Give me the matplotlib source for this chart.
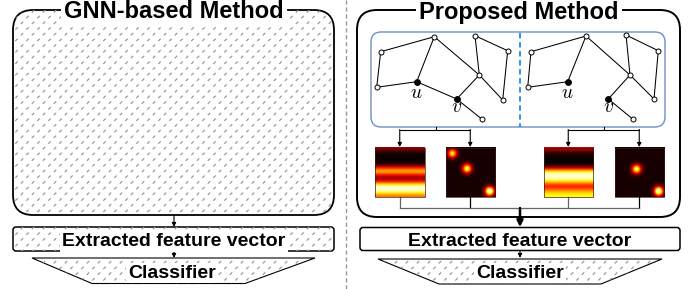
import matplotlib
matplotlib.use('Agg')
import matplotlib.pyplot as plt
import numpy as np
from matplotlib.patches import FancyBboxPatch, Polygon
from matplotlib.collections import LineCollection

plt.rcParams['font.family'] = ['Liberation Sans', 'DejaVu Sans']
plt.rcParams['mathtext.fontset'] = 'cm'

# ---- data (pixel coordinates of the reference picture) ----
panel_titles = ['GNN-based Method', 'Proposed Method']
feature_label = 'Extracted feature vector'
classifier_label = 'Classifier'

# graph nodes: A B C D E u F v G H
g1_x = [380.7, 434.3, 475.0, 507.7, 376.7, 416.7, 479.3, 456.7, 502.7, 481.7]
g1_y = [51.7, 36.7, 35.7, 50.7, 87.3, 81.7, 75.0, 99.0, 100.0, 119.0]
g2_x = [531.0, 586.0, 626.0, 658.3, 527.7, 567.7, 630.0, 608.3, 654.0, 632.7]
g2_y = [51.7, 36.0, 35.0, 50.7, 87.3, 81.7, 75.0, 99.0, 99.0, 119.0]
edges1 = [(0, 1), (0, 4), (4, 5), (5, 1), (1, 6), (5, 7), (7, 6), (6, 2),
          (2, 3), (3, 8), (6, 8), (7, 9)]
edges2 = [(0, 1), (0, 4), (4, 5), (5, 1), (1, 6), (7, 6), (6, 2),
          (2, 3), (3, 8), (6, 8), (7, 9)]
u_idx, v_idx = 5, 7

# heat map row profiles (top -> bottom), values for the 'hot' colormap
stripe1 = [0.22, 0.14, 0.06, 0.02, 0.0, 0.0, 0.0, 0.02, 0.08, 0.22, 0.42, 0.58, 0.6,
           0.45, 0.3, 0.22, 0.3, 0.45, 0.68, 0.88, 0.97, 0.95, 0.8, 0.65, 0.55]
stripe2 = [0.28, 0.2, 0.1, 0.04, 0.01, 0.0, 0.0, 0.0, 0.03, 0.12, 0.3, 0.55, 0.78,
           0.93, 0.97, 0.93, 0.8, 0.65, 0.5, 0.42, 0.45, 0.55, 0.65, 0.72, 0.75]
# blobs: (x frac, y frac, peak)
blobs1 = [(0.12, 0.12, 0.72), (0.42, 0.43, 0.8), (0.88, 0.89, 1.0)]
blobs2 = [(0.43, 0.44, 0.82), (0.88, 0.89, 1.0)]
heat_x0 = [375.0, 445.5, 543.5, 614.5]

fig = plt.figure(figsize=(6.96, 2.89), dpi=100)
ax = fig.add_axes([0, 0, 1, 1])


def hatch(patch):
    x0, y0, x1, y1 = 0, 0, 696, 289
    segs = []
    row = 0
    y = y0
    while y < y1:
        off = 5.5 if row % 2 else 0
        x = x0 + off
        while x < x1:
            segs.append([(x - 1.2, y + 1.2), (x + 1.2, y - 1.2)])
            x += 11
        y += 5.7
        row += 1
    lc = LineCollection(segs, colors='#9a9a9a', linewidths=0.9, zorder=patch.get_zorder() + 0.1)
    ax.add_collection(lc)
    lc.set_clip_path(patch)


def rbox(x, y, w, h, r, lw, fc='white', ec='black', hatched=False, z=1):
    p = FancyBboxPatch((x, y), w, h, boxstyle='round,pad=0,rounding_size=%g' % r,
                       fc=fc, ec=ec, lw=lw, zorder=z)
    ax.add_patch(p)
    if hatched:
        hatch(p)
    return p


def arrow(x, ya, yb, lw=0.8, ms=6):
    ax.annotate('', xy=(x, yb), xytext=(x, ya),
                arrowprops=dict(arrowstyle='-|>', lw=lw, color='black',
                                mutation_scale=ms, shrinkA=0, shrinkB=0), zorder=6)


# separator
ax.plot([346, 346], [0, 289], color='#9a9a9a', lw=1, dashes=(3, 2))

# ---- left panel ----
big_left = rbox(13, 10, 321, 205, 20, 1.3, hatched=True)
ax.text(174, 18.5, panel_titles[0], ha='center', va='baseline', fontsize=17, fontweight='bold',
        bbox=dict(boxstyle='square,pad=0.15', fc='white', ec='none'), zorder=8)
arrow(174, 215, 227)
rbox(13, 227, 321, 24, 3, 1.1, hatched=True, z=3)
ax.text(174, 246, feature_label, ha='center', va='baseline', fontsize=14, fontweight='bold',
        bbox=dict(boxstyle='square,pad=0.1', fc='white', ec='none'), zorder=8)
arrow(174, 251, 258)
cl = Polygon([(32, 258), (315, 258), (245, 283.5), (92, 283.5)], closed=True,
             fc='white', ec='black', lw=0.8, zorder=3)
ax.add_patch(cl)
hatch(cl)
ax.text(172, 277.5, classifier_label, ha='center', va='baseline', fontsize=14, fontweight='bold',
        bbox=dict(boxstyle='square,pad=0.1', fc='white', ec='none'), zorder=8)

# ---- right panel ----
rbox(357, 10, 323, 207, 20, 1.4)
ax.text(519, 18.5, panel_titles[1], ha='center', va='baseline', fontsize=17, fontweight='bold',
        bbox=dict(boxstyle='square,pad=0.15', fc='white', ec='none'), zorder=8)
rbox(371, 32, 294, 95, 10, 1.0, ec='#6f8fc6', z=2)
ax.plot([520, 520], [33, 126.5], color='#1e88f0', lw=1.3, dashes=(3, 2), zorder=3)

for gx, gy, ed in [(g1_x, g1_y, edges1), (g2_x, g2_y, edges2)]:
    for a, b in ed:
        ax.plot([gx[a], gx[b]], [gy[a], gy[b]], color='black', lw=0.75, zorder=4)
    for i in range(len(gx)):
        filled = i in (u_idx, v_idx)
        ax.plot(gx[i], gy[i], 'o', ms=4.2 if filled else 3.6,
                mfc='black' if filled else 'white', mec='black', mew=0.7, zorder=5)
    ax.text(gx[u_idx], gy[u_idx] + 12, '$u$', ha='center', va='center', fontsize=14, zorder=5)
    ax.text(gx[v_idx], gy[v_idx] + 9, '$v$', ha='center', va='center', fontsize=14, zorder=5)

# arrows down to the heat maps
hw = 49.5
centers = [x + hw / 2 for x in heat_x0]
for k, stem in enumerate([436, 604]):
    cl_, cr_ = centers[2 * k], centers[2 * k + 1]
    ax.plot([stem, stem], [127, 129.5], color='black', lw=0.8, zorder=4)
    ax.plot([cl_, cr_], [129.5, 129.5], color='black', lw=0.8, zorder=4)
    arrow(cl_, 129.5, 147)
    arrow(cr_, 129.5, 147)

# heat maps
yy, xx = np.mgrid[0:1:60j, 0:1:60j]
images = []
for prof in (stripe1, stripe2):
    images.append(np.array(prof)[:, None])
for bl in (blobs1, blobs2):
    img = np.full(xx.shape, 0.02)
    for bx, by, pk in bl:
        img += pk * np.exp(-((xx - bx) ** 2 + (yy - by) ** 2) / (2 * 0.065 ** 2))
    images.append(img)
order = [images[0], images[2], images[1], images[3]]
for x0, img in zip(heat_x0, order):
    ax.imshow(img, cmap='hot', vmin=0, vmax=1, aspect='auto', interpolation='bilinear',
              extent=(x0, x0 + hw, 197, 147.5), zorder=4)
    ax.add_patch(plt.Rectangle((x0, 147.5), hw, 49.5, fc='none', ec='#3a1a1a', lw=0.5, zorder=5))

# connectors below the heat maps
for k, c in enumerate(centers):
    ax.plot([c, c], [197, 208], color='black' if k % 2 else '#666666', lw=0.9, zorder=4)
ax.plot([centers[0], centers[-1]], [208, 208], color='#666666', lw=0.9, zorder=4)
ax.annotate('', xy=(520, 227), xytext=(520, 208),
            arrowprops=dict(arrowstyle='-|>', lw=1.8, color='black', mutation_scale=9,
                            shrinkA=0, shrinkB=0), zorder=6)

rbox(360, 227.5, 320, 23, 3, 1.1, z=3)
ax.text(520, 246, feature_label, ha='center', va='baseline', fontsize=14, fontweight='bold', zorder=8)
arrow(520, 251, 258)
cr = Polygon([(378, 259), (662, 259), (601, 284), (439, 284)], closed=True,
             fc='white', ec='black', lw=0.8, zorder=3)
ax.add_patch(cr)
hatch(cr)
ax.text(520, 277.5, classifier_label, ha='center', va='baseline', fontsize=14, fontweight='bold',
        bbox=dict(boxstyle='square,pad=0.1', fc='white', ec='none'), zorder=8)

ax.set_xlim(0, 696)
ax.set_ylim(289, 0)
ax.axis('off')

plt.savefig('out.png', dpi=100)
